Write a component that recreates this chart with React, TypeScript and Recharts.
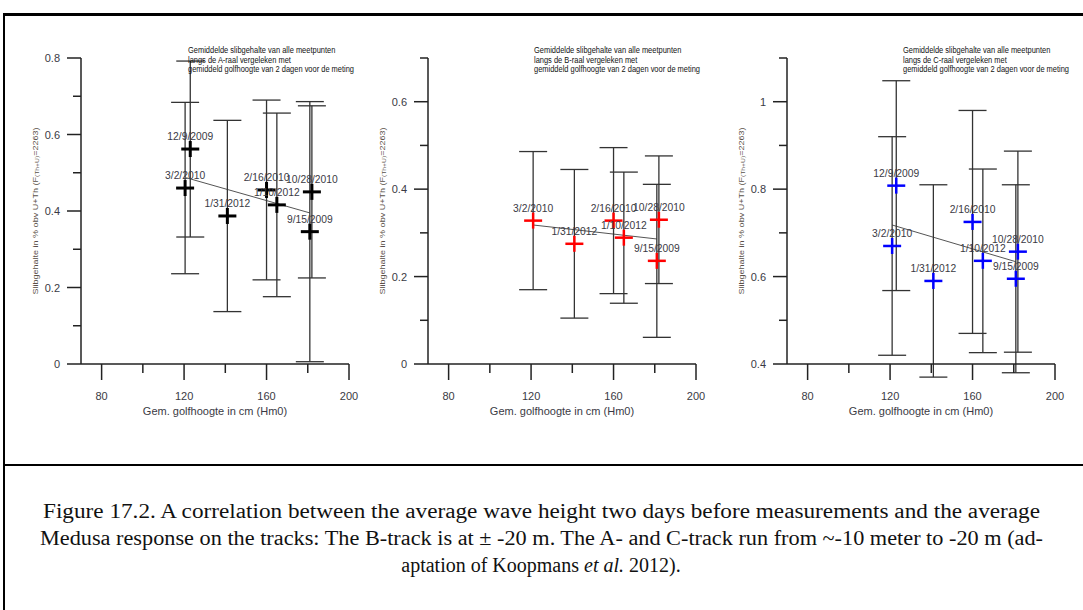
import React from 'react'
import { ScatterChart, Scatter, XAxis, YAxis, ErrorBar, ReferenceLine, Label } from 'recharts'

// wave height (cm) per survey date, with silt content and its spread
const datesA = ['12/9/2009', '3/2/2010', '1/31/2012', '2/16/2010', '1/10/2012', '10/28/2010', '9/15/2009']
const waveA = [123, 120.5, 141, 160, 165, 182, 181]
const siltA = [0.562, 0.46, 0.387, 0.455, 0.416, 0.45, 0.346]
const errA = [0.23, 0.224, 0.25, 0.235, 0.24, 0.225, 0.34]
const trendA = [
  { x: 121, y: 0.487 },
  { x: 181, y: 0.395 },
]

const datesB = ['3/2/2010', '1/31/2012', '2/16/2010', '1/10/2012', '10/28/2010', '9/15/2009']
const waveB = [121, 141, 160, 165, 182, 181]
const siltB = [0.328, 0.275, 0.328, 0.289, 0.33, 0.236]
const errB = [0.158, 0.17, 0.167, 0.15, 0.146, 0.175]
const trendB = [
  { x: 121, y: 0.318 },
  { x: 181, y: 0.286 },
]

const datesC = ['12/9/2009', '3/2/2010', '1/31/2012', '2/16/2010', '1/10/2012', '10/28/2010', '9/15/2009']
const waveC = [123, 121, 141, 160, 165, 182, 181]
const siltC = [0.808, 0.67, 0.59, 0.725, 0.636, 0.657, 0.595]
const errC = [0.24, 0.25, 0.22, 0.255, 0.21, 0.23, 0.215]
const trendC = [
  { x: 121, y: 0.718 },
  { x: 181, y: 0.634 },
]

const xTicks = [80, 100, 120, 140, 160, 180, 200]
const xTickLabels = ['80', '', '120', '', '160', '', '200']
const yTicksA = [0, 0.1, 0.2, 0.3, 0.4, 0.5, 0.6, 0.7, 0.8]
const yLabelsA = ['0', '', '0.2', '', '0.4', '', '0.6', '', '0.8']
const yTicksB = [0, 0.1, 0.2, 0.3, 0.4, 0.5, 0.6, 0.7]
const yLabelsB = ['0', '', '0.2', '', '0.4', '', '0.6', '']
const yTicksC = [0.4, 0.5, 0.6, 0.7, 0.8, 0.9, 1.0, 1.1]
const yLabelsC = ['0.4', '', '0.6', '', '0.8', '', '1', '']

const FONT = '"Liberation Sans", Arial, sans-serif'
const TXT = '#3a3a44'

const rows = (dates: string[], xs: number[], ys: number[], errs: number[]) =>
  dates.map((d, i) => ({ date: d, x: xs[i], y: ys[i], err: errs[i] }))

const pick = (ticks: number[], labels: string[], v: number) => {
  const i = ticks.findIndex((t) => Math.abs(t - v) < 1e-6)
  return i >= 0 ? labels[i] : ''
}

function Cross({ cx, cy, payload, color, sw }: any) {
  if (cx == null || cy == null) return null
  return (
    <g>
      <line x1={cx - 9} y1={cy} x2={cx + 9} y2={cy} stroke={color} strokeWidth={sw} />
      <line x1={cx} y1={cy - 8} x2={cx} y2={cy + 8} stroke={color} strokeWidth={sw} />
      <text x={cx} y={cy - 9} textAnchor="middle" fontSize={10.3} fontFamily={FONT} fill={TXT}>
        {payload.date}
      </text>
    </g>
  )
}

interface PanelProps {
  left: number
  data: { date: string; x: number; y: number; err: number }[]
  trend: { x: number; y: number }[]
  yDomain: [number, number]
  yTicks: number[]
  yLabels: string[]
  color: string
  sw: number
}

function Panel({ left, data, trend, yDomain, yTicks, yLabels, color, sw }: PanelProps) {
  const xTick = (p: any) => {
    const lab = pick(xTicks, xTickLabels, p.payload.value)
    return (
      <g>
        <line x1={p.x} y1={p.y} x2={p.x} y2={p.y + (lab ? 16 : 9)} stroke="#222" strokeWidth={1.5} />
        <text x={p.x} y={p.y + 36} textAnchor="middle" fontSize={11} fontFamily={FONT} fill={TXT}>
          {lab}
        </text>
      </g>
    )
  }
  const yTick = (p: any) => {
    const lab = pick(yTicks, yLabels, p.payload.value)
    return (
      <g>
        <line x1={p.x - (lab ? 14 : 8)} y1={p.y} x2={p.x} y2={p.y} stroke="#222" strokeWidth={1.5} />
        <text x={p.x - 21} y={p.y + 4} textAnchor="end" fontSize={11} fontFamily={FONT} fill={TXT}>
          {lab}
        </text>
      </g>
    )
  }
  const xTitle = (p: any) => {
    const vb = p.viewBox
    return (
      <text x={vb.x + vb.width / 2} y={vb.y + 51} textAnchor="middle" fontSize={11} fontFamily={FONT} fill={TXT}>
        Gem. golfhoogte in cm (Hm0)
      </text>
    )
  }
  const yTitle = (p: any) => {
    const vb = p.viewBox
    const cx = vb.x + vb.width - 46
    const cy = vb.y + vb.height / 2
    return (
      <text
        x={cx}
        y={cy}
        transform={`rotate(-90 ${cx} ${cy})`}
        textAnchor="middle"
        dominantBaseline="central"
        fontSize={8}
        fontFamily={FONT}
        fill="#5a5048"
        textLength={167}
        lengthAdjust="spacingAndGlyphs"
      >
        Slibgehalte in % obv U+Th (F
        <tspan fontSize={6} dy={2}>(Th+U)</tspan>
        <tspan dy={-2}>=2263)</tspan>
      </text>
    )
  }

  return (
    <div style={{ position: 'absolute', left, top: 0 }}>
      <ScatterChart width={360} height={440} margin={{ top: 58, right: 11, left: 31, bottom: 36 }}>
        <XAxis
          type="number"
          dataKey="x"
          domain={[70, 200]}
          ticks={xTicks}
          interval={0}
          tick={xTick}
          tickLine={false}
          tickSize={0}
          tickMargin={0}
          height={40}
          axisLine={{ stroke: '#222', strokeWidth: 1.5 }}
          allowDataOverflow
        >
          <Label content={xTitle} />
        </XAxis>
        <YAxis
          type="number"
          dataKey="y"
          domain={yDomain}
          ticks={yTicks}
          interval={0}
          tick={yTick}
          tickLine={false}
          tickSize={0}
          tickMargin={0}
          width={50}
          axisLine={{ stroke: '#222', strokeWidth: 1.5 }}
          allowDataOverflow
        >
          <Label content={yTitle} />
        </YAxis>
        <ReferenceLine segment={trend} stroke="#555" strokeWidth={1} />
        <Scatter
          data={data}
          isAnimationActive={false}
          shape={(p: any) => <Cross {...p} color={color} sw={sw} />}
        >
          <ErrorBar dataKey="err" direction="y" width={14} stroke="#333" strokeWidth={1.3} isAnimationActive={false} />
        </Scatter>
      </ScatterChart>
    </div>
  )
}

function Note({ x, raal }: { x: number; raal: string }) {
  const lines = [
    'Gemiddelde slibgehalte van alle meetpunten',
    `langs de ${raal}-raal vergeleken met`,
    'gemiddeld golfhoogte van 2 dagen voor de meting',
  ]
  return (
    <g>
      {lines.map((t, i) => (
        <g key={i} transform={`translate(${x} ${53 + i * 9.5}) scale(0.83 1)`}>
          <text x={0} y={0} fontSize={9} fontFamily={FONT} fill="#111">
            {t}
          </text>
        </g>
      ))}
    </g>
  )
}

export default function App() {
  return (
    <div style={{ position: 'absolute', left: 0, top: 0, width: 1083, height: 610, background: '#fff', overflow: 'hidden' }}>
      <Panel left={0} data={rows(datesA, waveA, siltA, errA)} trend={trendA} yDomain={[0, 0.8]} yTicks={yTicksA} yLabels={yLabelsA} color="#000" sw={3} />
      <Panel left={347} data={rows(datesB, waveB, siltB, errB)} trend={trendB} yDomain={[0, 0.7]} yTicks={yTicksB} yLabels={yLabelsB} color="#ff0000" sw={2.5} />
      <Panel left={706} data={rows(datesC, waveC, siltC, errC)} trend={trendC} yDomain={[0.4, 1.1]} yTicks={yTicksC} yLabels={yLabelsC} color="#0000ff" sw={2.5} />
      <svg width={1083} height={610} style={{ position: 'absolute', left: 0, top: 0, pointerEvents: 'none' }}>
        <line x1={3} y1={14.5} x2={1083} y2={14.5} stroke="#000" strokeWidth={3} />
        <line x1={4} y1={13} x2={4} y2={610} stroke="#000" strokeWidth={2} />
        <line x1={3} y1={465} x2={1083} y2={465} stroke="#000" strokeWidth={2} />
        <Note x={188} raal="A" />
        <Note x={534} raal="B" />
        <Note x={903} raal="C" />
        <g fontFamily='"Liberation Serif", "Times New Roman", serif' fontSize={20} fill="#111">
          <text x={43} y={518} textLength={997} lengthAdjust="spacingAndGlyphs">
            Figure 17.2. A correlation between the average wave height two days before measurements and the average
          </text>
          <text x={40} y={545} textLength={1003} lengthAdjust="spacingAndGlyphs">
            Medusa response on the tracks: The B-track is at ± -20 m. The A- and C-track run from ~-10 meter to -20 m (ad-
          </text>
          <text x={541} y={572} textAnchor="middle">
            aptation of Koopmans <tspan fontStyle="italic">et al.</tspan> 2012).
          </text>
        </g>
      </svg>
    </div>
  )
}
